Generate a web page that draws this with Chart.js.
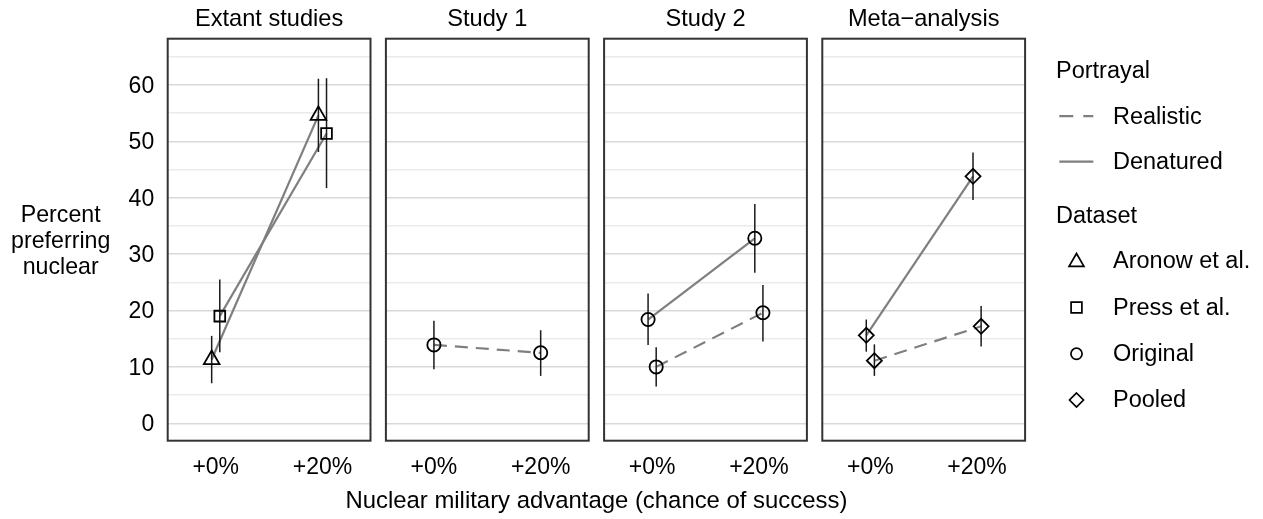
<!DOCTYPE html>
<html>
<head>
<meta charset="utf-8">
<script src="https://cdn.jsdelivr.net/npm/chart.js@4.4.1/dist/chart.umd.min.js"></script>
<style>
  html, body { margin: 0; padding: 0; background: #fff; }
  #wrap { position: relative; width: 1263px; height: 519px; }
  #wrap canvas { position: absolute; left: 0; top: 0; }
</style>
</head>
<body>
<div id="wrap">
  <canvas id="p0" width="1263" height="519"></canvas>
  <canvas id="p1" width="1263" height="519"></canvas>
  <canvas id="p2" width="1263" height="519"></canvas>
  <canvas id="p3" width="1263" height="519"></canvas>
</div>
<script>
// ---- data ----
const advantage = ["+0%", "+20%"];
const panelTitles = ["Extant studies", "Study 1", "Study 2", "Meta\u2212analysis"];
const portrayals = ["Realistic", "Denatured"];
const datasetNames = ["Aronow et al.", "Press et al.", "Original", "Pooled"];

// Extant studies (denatured)
const aronowEst = [11.3, 54.6];
const aronowLo = [7.1, 48.1];
const aronowHi = [15.5, 61.1];
const pressEst = [19.0, 51.4];
const pressLo = [12.6, 41.7];
const pressHi = [25.5, 61.2];

// Study 1 (realistic)
const study1RealEst = [13.9, 12.5];
const study1RealLo = [9.6, 8.4];
const study1RealHi = [18.2, 16.5];

// Study 2
const study2DenEst = [18.4, 32.8];
const study2DenLo = [13.9, 26.7];
const study2DenHi = [23.0, 38.9];
const study2RealEst = [10.0, 19.6];
const study2RealLo = [6.5, 14.5];
const study2RealHi = [13.5, 24.5];

// Meta-analysis (pooled)
const metaDenEst = [15.6, 43.8];
const metaDenLo = [12.7, 39.6];
const metaDenHi = [18.4, 48.0];
const metaRealEst = [11.1, 17.2];
const metaRealLo = [8.4, 13.6];
const metaRealHi = [14.0, 20.8];

const panels = [
  [
    { dataset: "Aronow et al.", portrayal: "Denatured", est: aronowEst, lo: aronowLo, hi: aronowHi },
    { dataset: "Press et al.", portrayal: "Denatured", est: pressEst, lo: pressLo, hi: pressHi }
  ],
  [
    { dataset: "Original", portrayal: "Realistic", est: study1RealEst, lo: study1RealLo, hi: study1RealHi }
  ],
  [
    { dataset: "Original", portrayal: "Denatured", est: study2DenEst, lo: study2DenLo, hi: study2DenHi },
    { dataset: "Original", portrayal: "Realistic", est: study2RealEst, lo: study2RealLo, hi: study2RealHi }
  ],
  [
    { dataset: "Pooled", portrayal: "Denatured", est: metaDenEst, lo: metaDenLo, hi: metaDenHi },
    { dataset: "Pooled", portrayal: "Realistic", est: metaRealEst, lo: metaRealLo, hi: metaRealHi }
  ]
];

// ---- layout / style ----
const W = 1263, H = 519;
const PANEL_L = [167.7, 385.9, 604.1, 822.3];
const PANEL_W = 202.8;
const TOP = 38.7, BOTTOM = 440.7;
const Y_AXIS_W = 70;
const FONT = "'Liberation Sans', Arial, Helvetica, sans-serif";
const FS = 23;
const LINE_GREY = "#7f7f7f";
const DODGE = 0.038;

const shapes = { "Aronow et al.": "triangle", "Press et al.": "rect", "Original": "circle", "Pooled": "rectRot" };
const radii = { triangle: 9, rect: 7.6, circle: 6.6, rectRot: 7.5 };

function dashFor(p) { return p === "Realistic" ? [13, 8] : []; }

const errorBars = {
  id: "errorBars",
  beforeDatasetDraw(chart, args) {
    const ds = chart.data.datasets[args.index];
    if (!ds.errLo) return;
    const ctx = chart.ctx, xs = chart.scales.x, ys = chart.scales.y;
    ctx.save();
    ctx.strokeStyle = "#1a1a1a";
    ctx.lineWidth = 1.5;
    ds.data.forEach((p, j) => {
      const px = xs.getPixelForValue(p.x);
      ctx.beginPath();
      ctx.moveTo(px, ys.getPixelForValue(ds.errLo[j]));
      ctx.lineTo(px, ys.getPixelForValue(ds.errHi[j]));
      ctx.stroke();
    });
    ctx.restore();
  }
};

const panelFrame = {
  id: "panelFrame",
  afterDatasetsDraw(chart, args, opts) {
    const ctx = chart.ctx, a = chart.chartArea;
    ctx.save();
    ctx.strokeStyle = "#333333";
    ctx.lineWidth = 2;
    ctx.strokeRect(a.left, a.top, a.right - a.left, a.bottom - a.top);
    ctx.fillStyle = "#000";
    ctx.font = "23.6px " + FONT;
    ctx.textAlign = "center";
    ctx.textBaseline = "middle";
    ctx.fillText(opts.title, (a.left + a.right) / 2, 19.5);
    ctx.restore();
  }
};

const axisTitles = {
  id: "axisTitles",
  afterDraw(chart, args, opts) {
    if (!opts.show) return;
    const ctx = chart.ctx;
    ctx.save();
    ctx.fillStyle = "#000";
    ctx.font = "23.2px " + FONT;
    ctx.textAlign = "center";
    ctx.textBaseline = "middle";
    ["Percent", "preferring", "nuclear"].forEach((t, k) => ctx.fillText(t, 60.7, 216 + k * 25.6));
    ctx.font = "23.9px " + FONT;
    ctx.fillText("Nuclear military advantage (chance of success)", (PANEL_L[0] + PANEL_L[3] + PANEL_W) / 2, 501);
    ctx.restore();
  }
};

function drawShape(ctx, style, x, y, r) {
  ctx.beginPath();
  if (style === "triangle") {
    ctx.moveTo(x, y - r);
    ctx.lineTo(x + r * Math.sqrt(3) / 2, y + r / 2);
    ctx.lineTo(x - r * Math.sqrt(3) / 2, y + r / 2);
    ctx.closePath();
  } else if (style === "rect") {
    ctx.rect(x - r, y - r, 2 * r, 2 * r);
  } else if (style === "circle") {
    ctx.arc(x, y, r, 0, Math.PI * 2);
  } else {
    ctx.moveTo(x, y - r); ctx.lineTo(x + r, y); ctx.lineTo(x, y + r); ctx.lineTo(x - r, y); ctx.closePath();
  }
  ctx.stroke();
}

const legendBox = {
  id: "legendBox",
  afterDraw(chart, args, opts) {
    if (!opts.show) return;
    const ctx = chart.ctx;
    ctx.save();
    ctx.fillStyle = "#000";
    ctx.font = "23.5px " + FONT;
    ctx.textAlign = "left";
    ctx.textBaseline = "middle";
    ctx.fillText("Portrayal", 1056, 72);
    const lineY = [116.2, 161.7];
    portrayals.forEach((p, k) => {
      ctx.save();
      ctx.strokeStyle = LINE_GREY;
      ctx.lineWidth = 2.2;
      ctx.setLineDash(p === "Realistic" ? [14, 10] : []);
      ctx.beginPath();
      ctx.moveTo(1059.3, lineY[k]);
      ctx.lineTo(1093.3, lineY[k]);
      ctx.stroke();
      ctx.restore();
      ctx.fillText(p, 1113, lineY[k] + 1);
    });
    ctx.fillText("Dataset", 1056, 217);
    const symY = [260.6, 307.5, 353.8, 400];
    const legR = { triangle: 8.6, rect: 5.4, circle: 5.6, rectRot: 7 };
    datasetNames.forEach((d, k) => {
      ctx.save();
      ctx.strokeStyle = "#000";
      ctx.lineWidth = 1.7;
      drawShape(ctx, shapes[d], 1076.5, symY[k] + (shapes[d] === "triangle" ? 1.5 : 0), legR[shapes[d]]);
      ctx.restore();
      ctx.fillText(d, 1113, symY[k] + 1);
    });
    ctx.restore();
  }
};

function makePanel(i) {
  const series = panels[i];
  const first = i === 0;
  const datasets = [];
  series.forEach((s, k) => {
    const dodge = series.length > 1 ? (k === 0 ? -DODGE : DODGE) : 0;
    const pts = s.est.map((v, j) => ({ x: j + 1 + dodge, y: v }));
    const style = shapes[s.dataset];
    datasets.push({
      label: s.dataset + " " + s.portrayal,
      data: pts,
      borderColor: LINE_GREY,
      borderWidth: 2.2,
      borderDash: dashFor(s.portrayal),
      pointRadius: 0,
      fill: false,
      order: 2
    });
    datasets.push({
      label: s.dataset,
      data: pts,
      showLine: false,
      pointStyle: style,
      pointRadius: radii[style],
      pointBorderColor: "#000",
      pointBorderWidth: 1.8,
      pointBackgroundColor: "rgba(0,0,0,0)",
      errLo: s.lo,
      errHi: s.hi,
      order: 1
    });
  });

  const yW = first ? Y_AXIS_W : 0;
  return new Chart(document.getElementById("p" + i), {
    type: "line",
    data: { datasets },
    options: {
      responsive: false,
      animation: false,
      devicePixelRatio: 1,
      events: [],
      layout: {
        padding: { left: PANEL_L[i] - yW, right: W - PANEL_L[i] - PANEL_W, top: TOP, bottom: 0 }
      },
      scales: {
        x: {
          type: "linear",
          min: 0.55,
          max: 2.45,
          grid: { display: false },
          border: { display: false },
          afterBuildTicks: (s) => { s.ticks = advantage.map((a, j) => ({ value: j + 1 })); },
          afterFit: (s) => { s.height = H - BOTTOM; },
          ticks: {
            callback: (v) => advantage[Math.round(v) - 1],
            font: { family: FONT, size: FS },
            color: "#000",
            padding: 5,
            maxRotation: 0,
            autoSkip: false
          }
        },
        y: {
          type: "linear",
          min: -3.09,
          max: 68.2,
          border: { display: false },
          grid: {
            drawTicks: false,
            lineWidth: 1.4,
            color: (c) => (c.tick && c.tick.value % 10 === 0 ? "#d9d9d9" : "#ebebeb")
          },
          afterFit: (s) => { s.width = yW; },
          ticks: {
            display: first,
            stepSize: 5,
            includeBounds: false,
            labelOffset: 1.5,
            callback: (v) => (v % 10 === 0 ? String(v) : ""),
            font: { family: FONT, size: FS },
            color: "#000",
            padding: 13.5
          }
        }
      },
      plugins: {
        legend: { display: false },
        tooltip: { enabled: false },
        panelFrame: { title: panelTitles[i] },
        axisTitles: { show: first },
        legendBox: { show: i === 3 }
      }
    },
    plugins: [errorBars, panelFrame, axisTitles, legendBox]
  });
}

panels.forEach((p, i) => makePanel(i));
</script>
</body>
</html>
